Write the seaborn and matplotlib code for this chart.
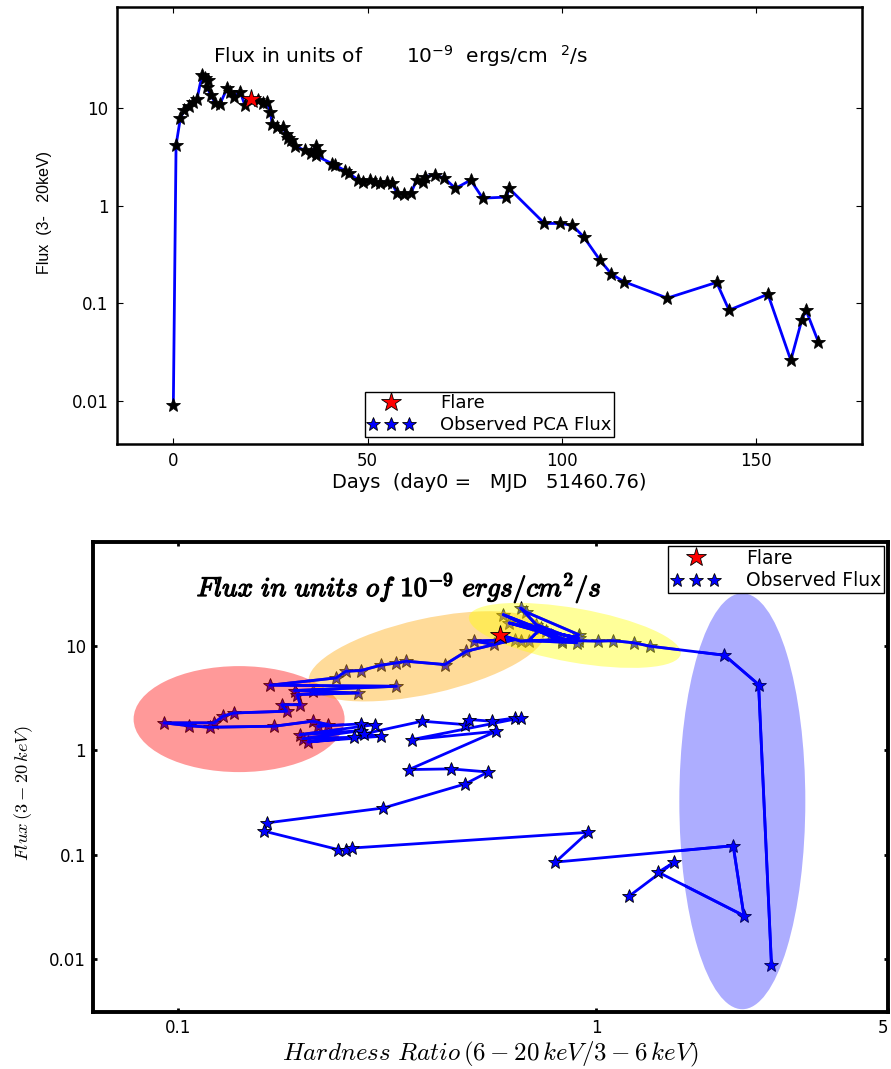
import matplotlib
matplotlib.use("Agg")
import matplotlib.pyplot as plt
import matplotlib.transforms as mtransforms
import matplotlib.patheffects as pe
from matplotlib.patches import Ellipse
from matplotlib.lines import Line2D
from matplotlib.legend_handler import HandlerLine2D
from matplotlib.ticker import NullLocator, FixedLocator, FixedFormatter
import seaborn as sns

# ---- PCA light curve (3-20 keV), days since MJD 51460.76 ----
days = [0.0, 0.7, 1.8, 2.8, 4.1, 5.0, 6.1, 7.4, 8.1, 9.0, 8.6, 9.6, 10.8, 12.0,
        13.9, 14.7, 15.7, 17.2, 18.4, 20.1, 21.9, 23.1, 24.1, 24.9, 25.5, 26.8,
        28.2, 29.0, 29.5, 30.2, 31.4, 33.9, 35.4, 36.8, 37.6, 36.6, 40.9, 41.7,
        44.2, 45.2, 47.6, 48.9, 50.7, 51.9, 53.2, 55.0, 56.2, 57.5, 59.3, 61.2,
        62.6, 64.2, 64.8, 67.3, 69.7, 72.6, 76.5, 79.6, 85.7, 86.4, 95.5, 99.6,
        102.7, 105.6, 109.7, 112.7, 115.9, 127.1, 139.8, 143.0, 153.0, 158.9,
        161.7, 162.8, 166.0]
flux = [0.009, 4.2, 7.9, 9.6, 10.6, 11.7, 12.6, 22.0, 20.3, 19.5, 16.7, 13.7,
        11.3, 11.1, 16.3, 14.8, 13.2, 14.8, 10.8, 12.6, 12.2, 11.3, 11.7, 9.25,
        6.9, 6.5, 6.4, 5.5, 5.0, 4.7, 4.1, 3.7, 3.5, 4.1, 3.6, 3.3, 2.7, 2.6,
        2.3, 2.16, 1.84, 1.77, 1.84, 1.77, 1.73, 1.77, 1.73, 1.37, 1.32, 1.37,
        1.84, 1.77, 2.0, 2.07, 1.93, 1.51, 1.84, 1.2, 1.23, 1.51, 0.66, 0.66,
        0.63, 0.48, 0.28, 0.20, 0.167, 0.113, 0.164, 0.085, 0.124, 0.026,
        0.067, 0.085, 0.040]
flare_day = 20.1
flare_flux = 12.6

# ---- Hardness-intensity track ----
hardness = [2.63, 2.45, 2.03, 1.35, 1.23, 1.10, 1.01, 0.91, 0.72, 0.66, 0.68,
            0.91, 0.83, 0.60, 0.76, 0.91, 0.62, 0.78, 0.90, 0.69, 0.74, 0.83,
            0.66, 0.59, 0.57, 0.51, 0.64, 0.49, 0.435, 0.352, 0.333, 0.306,
            0.274, 0.252, 0.239, 0.166, 0.333, 0.19, 0.21, 0.27, 0.193, 0.196,
            0.177, 0.182, 0.136, 0.128, 0.122, 0.0927, 0.106, 0.119, 0.170,
            0.21, 0.229, 0.216, 0.274, 0.296, 0.196, 0.274, 0.199, 0.263,
            0.205, 0.306, 0.278, 0.384, 0.487, 0.497, 0.563, 0.64, 0.66,
            0.362, 0.578, 0.357, 0.45, 0.552, 0.487, 0.31, 0.163, 0.161,
            0.242, 0.252, 0.261, 0.957, 0.80, 2.13, 2.26, 1.41, 1.54, 1.20]
hid_flux = [0.0088, 4.29, 8.2, 10.0, 10.8, 11.3, 11.2, 11.3, 16.1, 23.3, 21.3,
            12.9, 11.0, 20.1, 13.9, 12.0, 16.7, 12.9, 10.8, 11.3, 15.0, 11.6,
            11.2, 12.9, 10.4, 11.2, 11.6, 8.96, 6.67, 7.18, 6.92, 6.58, 5.85,
            5.75, 4.97, 4.23, 4.13, 3.76, 3.70, 3.56, 3.44, 2.75, 2.75, 2.38,
            2.29, 2.13, 1.84, 1.84, 1.73, 1.67, 1.71, 1.91, 1.77, 1.71, 1.80,
            1.77, 1.42, 1.55, 1.30, 1.34, 1.21, 1.37, 1.44, 1.91, 1.77, 1.98,
            1.91, 2.05, 2.05, 1.27, 1.53, 0.656, 0.666, 0.622, 0.478, 0.281,
            0.202, 0.168, 0.112, 0.112, 0.116, 0.164, 0.085, 0.122, 0.026,
            0.068, 0.085, 0.040]
flare_hardness = 0.59
flare_hid_flux = 12.9

# Spectral-state regions: centre (hardness, flux), size in inches, tilt, colour
region_centers = [(0.14, 2.0), (0.394, 8.0), (0.89, 12.7), (2.24, 0.326)]
region_sizes = [(2.11, 1.06), (2.42, 0.75), (2.15, 0.54), (1.26, 4.16)]
region_angles = [0, 12.6, -10, 0]
region_colors = ["#FF0000", "#FFA500", "#FFFF00", "#0000FF"]
region_alphas = [0.40, 0.40, 0.40, 0.32]

sns.set_theme(style="white")
plt.rcParams["font.family"] = ["DejaVu Sans"]
plt.rcParams["mathtext.fontset"] = "cm"
plt.rcParams["axes.edgecolor"] = "black"
plt.rcParams["xtick.color"] = "black"
plt.rcParams["ytick.color"] = "black"
plt.rcParams["text.color"] = "black"
plt.rcParams["axes.labelcolor"] = "black"

BLUE = "#0000FF"

fig = plt.figure(figsize=(8.91, 10.69), dpi=100)
ax1 = fig.add_axes([0.1313, 0.5847, 0.8361, 0.4088])
ax2 = fig.add_axes([0.1044, 0.0533, 0.8923, 0.4397])


def matlab_box(ax, spine_width, tick_width, tick_len, pad):
    for s in ax.spines.values():
        s.set_visible(True)
        s.set_linewidth(spine_width)
        s.set_color("black")
    ax.tick_params(which="major", direction="in", top=True, right=True,
                   bottom=True, left=True, width=tick_width, length=tick_len,
                   labelsize=12, pad=pad, colors="black")
    ax.grid(False)


# ---------------- light curve ----------------
sns.lineplot(x=days, y=flux, sort=False, estimator=None, ax=ax1, color=BLUE,
             lw=2.0, marker="*", markersize=10, markerfacecolor="black",
             markeredgecolor="black", markeredgewidth=0.6, zorder=2)
ax1.plot([flare_day], [flare_flux], ls="none", marker="*", ms=15,
         mfc="red", mec="black", mew=0.6, zorder=5)
ax1.set_yscale("log")
ax1.set_xlim(-14.5, 177.2)
ax1.set_ylim(0.0036, 110)
ax1.xaxis.set_major_locator(FixedLocator([0, 50, 100, 150]))
ax1.yaxis.set_major_locator(FixedLocator([0.01, 0.1, 1, 10]))
ax1.yaxis.set_major_formatter(FixedFormatter(["0.01", "0.1", "1", "10"]))
ax1.yaxis.set_minor_locator(NullLocator())
matlab_box(ax1, 1.8, 0.8, 4, 6)
ax1.set_xlabel("Days  (day0 =   MJD   51460.76)", fontsize=14, labelpad=2)
ax1.set_ylabel("Flux  (3-   20keV)", fontsize=11.5, labelpad=14,
               family="Liberation Sans", y=0.53)
ax1.text(0.38, 0.888, "Flux in units of       $\\mathregular{10^{-9}}$  ergs/cm  $\\mathregular{^{2}}$/s",
         transform=ax1.transAxes, ha="center", va="center", fontsize=14.5)

flare_h = Line2D([], [], ls="none", marker="*", ms=15, mfc="red", mec="black", mew=0.6)
obs_h = Line2D([], [], ls="none", marker="*", ms=10, mfc=BLUE, mec="black", mew=0.6)
leg1 = ax1.legend([flare_h, obs_h], ["Flare", "Observed PCA Flux"], loc="lower center",
                  handler_map={flare_h: HandlerLine2D(numpoints=1),
                               obs_h: HandlerLine2D(numpoints=3)},
                  frameon=True, fancybox=False, framealpha=1, edgecolor="black",
                  fontsize=13, borderpad=0.15, handlelength=2.6, handletextpad=1.4,
                  labelspacing=0.2, borderaxespad=0.4)
leg1.get_frame().set_linewidth(1.0)

# ---------------- hardness-intensity diagram ----------------
sns.lineplot(x=hardness, y=hid_flux, sort=False, estimator=None, ax=ax2,
             color=BLUE, lw=2.0, marker="*", markersize=10, markerfacecolor=BLUE,
             markeredgecolor="black", markeredgewidth=0.6, zorder=2)
ax2.set_xscale("log")
ax2.set_yscale("log")
ax2.set_xlim(0.0626, 5.0)
ax2.set_ylim(0.0031, 100)

for (cx, cy), (w, h), ang, col, al in zip(region_centers, region_sizes,
                                          region_angles, region_colors, region_alphas):
    trans = fig.dpi_scale_trans + mtransforms.ScaledTranslation(cx, cy, ax2.transData)
    ell = Ellipse((0, 0), w, h, angle=ang, transform=trans, facecolor=col,
                  edgecolor="none", alpha=al, zorder=3)
    ax2.add_patch(ell)
    # keep the track line crisp where it crosses a shaded region
    seg, = ax2.plot(hardness, hid_flux, color=BLUE, lw=2.0, zorder=4)
    seg.set_clip_path(ell)

ax2.plot([flare_hardness], [flare_hid_flux], ls="none", marker="*", ms=15,
         mfc="red", mec="black", mew=0.6, zorder=5)

ax2.xaxis.set_major_locator(FixedLocator([0.1, 1, 5]))
ax2.xaxis.set_major_formatter(FixedFormatter(["0.1", "1", "5"]))
ax2.xaxis.set_minor_locator(NullLocator())
ax2.yaxis.set_major_locator(FixedLocator([0.01, 0.1, 1, 10]))
ax2.yaxis.set_major_formatter(FixedFormatter(["0.01", "0.1", "1", "10"]))
ax2.yaxis.set_minor_locator(NullLocator())
matlab_box(ax2, 2.8, 2.0, 3, 5)
# the last tick sits on the right frame edge: anchor its label inside the canvas
ax2.get_xticklabels()[-1].set_horizontalalignment("right")
ax2.set_xlabel(r"$Hardness\ Ratio\,(6-20\,keV/3-6\,keV)$", fontsize=18, labelpad=2)
ax2.set_ylabel(r"$Flux\,(3-20\,keV)$", fontsize=13.3, labelpad=10, y=0.466)
ax2.text(0.385, 0.902, r"$Flux\ in\ units\ of\ 10^{-9}\ ergs/cm^{2}/s$",
         transform=ax2.transAxes, ha="center", va="center", fontsize=19.5,
         path_effects=[pe.withStroke(linewidth=0.9, foreground="black")], zorder=6)

flare_h2 = Line2D([], [], ls="none", marker="*", ms=15, mfc="red", mec="black", mew=0.6)
obs_h2 = Line2D([], [], ls="none", marker="*", ms=10, mfc=BLUE, mec="black", mew=0.6)
leg2 = ax2.legend([flare_h2, obs_h2], ["Flare", "Observed Flux"], loc="upper right",
                  handler_map={flare_h2: HandlerLine2D(numpoints=1),
                               obs_h2: HandlerLine2D(numpoints=3)},
                  frameon=True, fancybox=False, framealpha=1, edgecolor="black",
                  fontsize=13.5, borderpad=0.15, handlelength=2.6, handletextpad=1.4,
                  labelspacing=0.2, borderaxespad=0.2)
leg2.get_frame().set_linewidth(1.0)
leg2.set_zorder(10)

fig.savefig("out.png", dpi=100)
